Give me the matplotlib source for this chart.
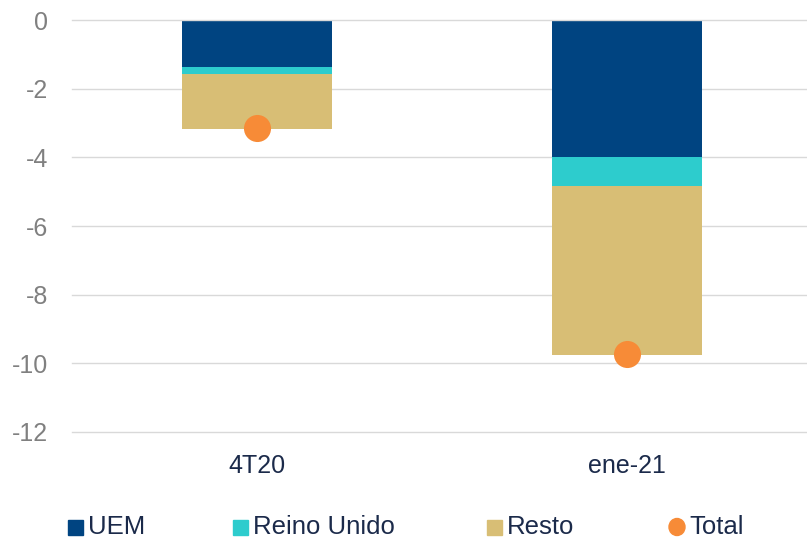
import matplotlib
matplotlib.use("Agg")
import matplotlib.pyplot as plt
from matplotlib.patches import Rectangle, Ellipse
import numpy as np

plt.rcParams['font.family'] = ['Liberation Sans', 'DejaVu Sans']

categories = ["4T20", "ene-21"]
uem = [-1.36, -3.99]
reino_unido = [-0.21, -0.85]
resto = [-1.61, -4.93]
total = [-3.16, -9.74]

series_names = ["UEM", "Reino Unido", "Resto", "Total"]
colors = ["#004481", "#2dcccd", "#d8be75", "#f78b37"]

W, H = 807, 538
fig = plt.figure(figsize=(W / 100, H / 100), dpi=100)
ax = fig.add_axes([72 / W, 1 - 432 / H, 1 - 72 / W, (432 - 20) / H])

x = np.arange(len(categories))
width = 0.405
bottom = np.zeros(len(categories))
for vals, c in zip([uem, reino_unido, resto], colors[:3]):
    ax.bar(x, vals, width, bottom=bottom, color=c, zorder=2)
    bottom = bottom + np.array(vals)

ax.scatter(x, total, s=380, color=colors[3], zorder=3, linewidths=0)

ax.set_xlim(-0.5, 1.486)
ax.set_ylim(-12, 0)
ax.set_yticks(np.arange(-12, 1, 2))
ax.set_yticklabels([f"{v:d}" for v in np.arange(-12, 1, 2)])
ax.set_xticks(x)
ax.set_xticklabels(categories)
for yv in np.arange(-12, 1, 2):
    ax.axhline(yv, color="#d9d9d9", linewidth=1, zorder=0 if yv < 0 else 2.5,
               clip_on=False)
for s in ax.spines.values():
    s.set_visible(False)
ax.tick_params(axis="y", length=0, pad=17, labelsize=18, labelcolor="#808080")
ax.tick_params(axis="x", length=0, pad=16, labelsize=18, labelcolor="#1b2a4a")

# legend drawn in figure pixel coordinates
def px(xp, yp):
    return xp / W, 1 - yp / H

ly = 527
entries = [(68, "rect"), (233, "rect"), (487, "rect"), (669, "circle")]
for (x0, kind), name, c in zip(entries, series_names, colors):
    if kind == "rect":
        fx, fy = px(x0, ly + 7.5)
        fig.add_artist(Rectangle((fx, fy), 15 / W, 15 / H, color=c,
                                 transform=fig.transFigure))
    else:
        cx, cy = px(x0 + 8, ly)
        fig.add_artist(Ellipse((cx, cy), 16 / W, 17 / H, color=c,
                               transform=fig.transFigure))
    fx, fy = px(x0 + 20, ly)
    fig.text(fx, fy, name, fontsize=18.5, color="#1b2a4a", va="center", ha="left")

fig.savefig("out.png", dpi=100)
